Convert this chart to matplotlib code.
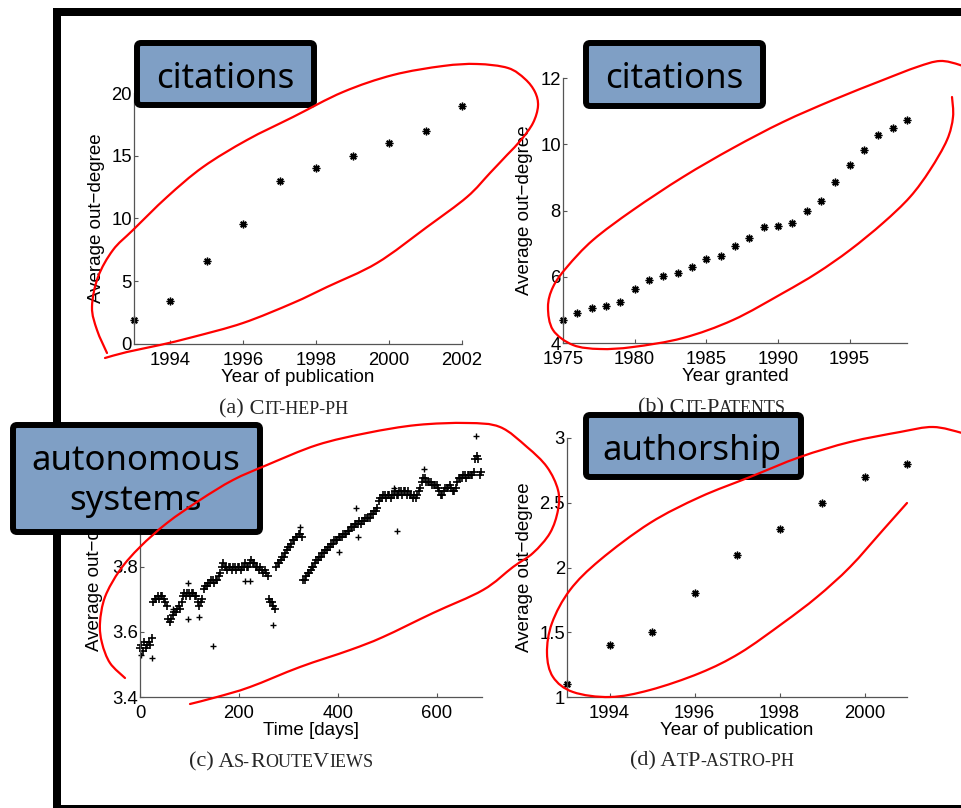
"""Average out-degree over time for four networks (citations, patents, AS graph,
co-authorship), with the slide annotations: labelled boxes and hand-drawn red loops.

Saves out.png (961x808).
"""
import numpy as np
import matplotlib
matplotlib.use("Agg")
import matplotlib.pyplot as plt
from matplotlib.path import Path
from matplotlib.patches import PathPatch, FancyBboxPatch, Rectangle
from matplotlib.offsetbox import TextArea, HPacker, AnnotationBbox

W, H = 961, 808

# ---- data ----
hep_year = [1993, 1994, 1995, 1996, 1997, 1998, 1999, 2000, 2001, 2002]
hep_deg = [1.9, 3.4, 6.6, 9.6, 13.0, 14.0, 15.0, 16.0, 17.0, 19.0]

pat_year = list(range(1975, 2000))
pat_deg = [4.70, 4.90, 5.06, 5.11, 5.25, 5.64, 5.90, 6.03, 6.12, 6.30,
           6.54, 6.63, 6.93, 7.16, 7.51, 7.52, 7.63, 7.98, 8.28, 8.85,
           9.38, 9.83, 10.27, 10.48, 10.73]

astro_year = [1993, 1994, 1995, 1996, 1997, 1998, 1999, 2000, 2001]
astro_deg = [1.1, 1.4, 1.5, 1.8, 2.1, 2.3, 2.5, 2.7, 2.8]

# AS-RouteViews, one reading every 3 days (day 0, 3, ..., 690)
as_deg = [
    3.55, 3.56, 3.54, 3.57, 3.55, 3.56, 3.57, 3.56, 3.58, 3.69,  # 0
    3.70, 3.70, 3.71, 3.70, 3.71, 3.71, 3.70, 3.69, 3.68, 3.64,  # 30
    3.63, 3.64, 3.65, 3.66, 3.66, 3.67, 3.68, 3.67, 3.69, 3.71,  # 60
    3.72, 3.71, 3.72, 3.72, 3.71, 3.72, 3.72, 3.71, 3.71, 3.69,  # 90
    3.68, 3.69, 3.70, 3.73, 3.74, 3.74, 3.75, 3.75, 3.76, 3.76,  # 120
    3.75, 3.76, 3.76, 3.77, 3.78, 3.80, 3.81, 3.80, 3.80, 3.79,  # 150
    3.80, 3.80, 3.79, 3.80, 3.80, 3.79, 3.80, 3.80, 3.79, 3.80,  # 180
    3.80, 3.81, 3.80, 3.80, 3.81, 3.82, 3.81, 3.81, 3.80, 3.80,  # 210
    3.79, 3.80, 3.79, 3.78, 3.79, 3.78, 3.77, 3.70, 3.69, 3.69,  # 240
    3.68, 3.67, 3.80, 3.81, 3.81, 3.82, 3.83, 3.83, 3.84, 3.85,  # 270
    3.86, 3.86, 3.87, 3.88, 3.88, 3.89, 3.89, 3.90, 3.90, 3.89,  # 300
    3.76, 3.76, 3.77, 3.78, 3.78, 3.79, 3.80, 3.80, 3.81, 3.82,  # 330
    3.82, 3.83, 3.83, 3.84, 3.84, 3.85, 3.85, 3.86, 3.86, 3.87,  # 360
    3.87, 3.88, 3.88, 3.88, 3.89, 3.89, 3.89, 3.90, 3.90, 3.90,  # 390
    3.91, 3.91, 3.92, 3.92, 3.92, 3.93, 3.93, 3.93, 3.94, 3.93,  # 420
    3.94, 3.94, 3.95, 3.95, 3.95, 3.95, 3.96, 3.96, 3.97, 3.97,  # 450
    3.98, 4.00, 4.01, 4.01, 4.02, 4.02, 4.01, 4.02, 4.02, 4.01,  # 480
    4.02, 4.02, 4.03, 4.02, 4.02, 4.03, 4.03, 4.02, 4.03, 4.03,  # 510
    4.02, 4.03, 4.02, 4.02, 4.01, 4.02, 4.01, 4.02, 4.03, 4.04,  # 540
    4.06, 4.07, 4.07, 4.06, 4.06, 4.06, 4.06, 4.05, 4.05, 4.05,  # 570
    4.05, 4.04, 4.03, 4.02, 4.02, 4.03, 4.04, 4.04, 4.04, 4.05,  # 600
    4.04, 4.03, 4.03, 4.04, 4.06, 4.07, 4.07, 4.07, 4.08, 4.08,  # 630
    4.07, 4.08, 4.08, 4.08, 4.08, 4.09, 4.13, 4.14, 4.13, 4.08,  # 660
    4.09,                                                        # 690
]
as_day = np.arange(len(as_deg)) * 3
# stray readings off the main band
as_out_day = [3, 24, 66, 97, 98, 120, 148, 213, 223, 270, 324, 402, 438, 441, 513, 519, 574, 679]
as_out_deg = [3.53, 3.52, 3.67, 3.64, 3.75, 3.645, 3.555, 3.755, 3.755, 3.62, 3.92, 3.845,
              3.98, 3.89, 4.04, 3.91, 4.10, 4.20]

plt.rcParams["font.family"] = ["Liberation Sans", "DejaVu Sans"]
AX_COL = "#555555"
STAR = (8, 2, 0)


def add_panel(l, t, r, b, xlabel, ylab_right):
    """Axes placed by its pixel box (left, top, right, bottom) in the 961x808 image."""
    ax = fig.add_axes([l / W, 1 - b / H, (r - l) / W, (b - t) / H])
    for s in ("top", "right"):
        ax.spines[s].set_visible(False)
    for s in ("left", "bottom"):
        ax.spines[s].set_color(AX_COL)
        ax.spines[s].set_linewidth(0.9)
    ax.tick_params(direction="in", length=3, width=0.8, color=AX_COL,
                   labelsize=13.3, labelcolor="black")
    ax.tick_params(axis="x", pad=5.5)
    ax.tick_params(axis="y", pad=1.5)
    ax.set_xlabel(xlabel, fontsize=13.5)
    ax.xaxis.set_label_coords(0.5, -25 / (b - t))
    ax.set_ylabel("Average out\u2212degree", fontsize=13.5)
    ax.yaxis.set_label_coords(-(l - ylab_right) / (r - l), 0.5)
    return ax


fig = plt.figure(figsize=(W / 100, H / 100), dpi=100)
fig.patch.set_facecolor("white")

ax = add_panel(134, 93, 462, 344, "Year of publication", 105)
ax.plot(hep_year, hep_deg, ls="none", marker=STAR, ms=5.5, mew=1.0, color="black", clip_on=False)
ax.set_xlim(1993, 2002); ax.set_ylim(0, 20)
ax.set_xticks([1994, 1996, 1998, 2000, 2002]); ax.set_yticks([0, 5, 10, 15, 20])

ax = add_panel(563, 78, 907, 343, "Year granted", 533)
ax.plot(pat_year, pat_deg, ls="none", marker=STAR, ms=5.5, mew=1.0, color="black", clip_on=False)
ax.set_xlim(1975, 1999); ax.set_ylim(4, 12)
ax.set_xticks([1975, 1980, 1985, 1990, 1995]); ax.set_yticks([4, 6, 8, 10, 12])

ax = add_panel(140, 436, 482, 697, "Time [days]", 103)
ax.plot(as_day, as_deg, ls="none", marker="+", ms=5.2, mew=1.2, color="black", clip_on=False)
ax.plot(as_out_day, as_out_deg, ls="none", marker="+", ms=4.5, mew=1.0, color="black", clip_on=False)
ax.set_xlim(0, 692); ax.set_ylim(3.4, 4.2)
ax.set_xticks([0, 200, 400, 600]); ax.set_yticks([3.4, 3.6, 3.8, 4.0, 4.2])
ax.set_yticklabels(["3.4", "3.6", "3.8", "4", "4.2"])

ax = add_panel(567, 438, 907, 697, "Year of publication", 533)
ax.plot(astro_year, astro_deg, ls="none", marker=STAR, ms=5.5, mew=1.0, color="black", clip_on=False)
ax.set_xlim(1993, 2001); ax.set_ylim(1, 3)
ax.set_xticks([1994, 1996, 1998, 2000]); ax.set_yticks([1, 1.5, 2, 2.5, 3])
ax.set_yticklabels(["1", "1.5", "2", "2.5", "3"])

# ---- slide overlay in pixel coordinates ----
ov = fig.add_axes([0, 0, 1, 1], zorder=10)
ov.set_xlim(0, W); ov.set_ylim(H, 0)
ov.axis("off")


def caption(x, y, runs):
    # small caps faked with a smaller size for the lower-case runs
    areas = [TextArea(s, textprops=dict(fontsize=16 if big else 13,
                                        family="Liberation Serif", color="#262626"))
             for s, big in runs]
    pack = HPacker(children=areas, align="baseline", pad=0, sep=0)
    ov.add_artist(AnnotationBbox(pack, (x, y), frameon=False, box_alignment=(0.5, 0.5),
                                 pad=0, zorder=1))


caption(284, 409, [("(a)", 1), (" C", 1), ("IT-HEP-PH", 0)])
caption(712, 408, [("(b)", 1), (" C", 1), ("IT-", 0), ("P", 1), ("ATENTS", 0)])
caption(281, 762, [("(c)", 1), (" A", 1), ("S-", 0), ("R", 1), ("OUTE", 0), ("V", 1), ("IEWS", 0)])
caption(712, 761, [("(d)", 1), (" A", 1), ("T", 0), ("P", 1), ("-ASTRO-PH", 0)])

# black slide frame
for x0, y0, w, h in [(53, 8, 908, 8), (53, 8, 8, 800), (53, 805, 908, 5)]:
    ov.add_patch(Rectangle((x0, y0), w, h, color="black", lw=0, zorder=2))

# label boxes
for x0, y0, x1, y1 in [(137, 43, 314, 105), (586, 43, 763, 106),
                       (13, 425, 260, 532), (586, 415, 801, 477)]:
    ov.add_patch(FancyBboxPatch((x0, y0), x1 - x0, y1 - y0,
                                boxstyle="round,pad=0,rounding_size=4",
                                fc="#7f9fc5", ec="black", lw=4.3, zorder=3))
box_font = dict(family=["Noto Sans", "DejaVu Sans"], fontsize=25, color="black",
                ha="center", va="baseline", zorder=4)
ov.text(225, 88, "citations", **box_font)
ov.text(674, 88, "citations", **box_font)
ov.text(136, 470, "autonomous", **box_font)
ov.text(136, 510, "systems", **box_font)
ov.text(692, 460, "authorship", **box_font)


def smooth(points):
    """Catmull-Rom curve through the given points, as a cubic Bezier path."""
    p = np.asarray(points, float)
    q = np.vstack([p[0], p, p[-1]])
    verts, codes = [p[0]], [Path.MOVETO]
    for i in range(1, len(q) - 2):
        verts += [q[i] + (q[i + 1] - q[i - 1]) / 6, q[i + 1] - (q[i + 2] - q[i]) / 6, q[i + 1]]
        codes += [Path.CURVE4] * 3
    return Path(verts, codes)


loops = [
    [(107, 353), (97, 330), (92, 307), (98, 277), (113, 250), (133, 230), (167, 197),
     (203, 167), (247, 140), (293, 117), (343, 92), (393, 75), (443, 66), (477, 64),
     (508, 68), (525, 79), (535, 92), (538, 106), (533, 123), (521, 140), (507, 155),
     (490, 173), (467, 197), (427, 227), (377, 263), (327, 287), (293, 303), (243, 323),
     (193, 337), (160, 345), (127, 352), (105, 358)],
    [(952, 97), (953, 117), (947, 140), (930, 170), (910, 197), (883, 223), (850, 250),
     (817, 273), (783, 293), (733, 320), (683, 338), (633, 347), (600, 349), (573, 345),
     (553, 330), (548, 307), (553, 287), (567, 267), (593, 240), (633, 210), (683, 177),
     (733, 148), (783, 122), (833, 100), (883, 80), (917, 67), (940, 61), (960, 65), (975, 72)],
    [(125, 678), (110, 663), (102, 643), (100, 623), (105, 597), (120, 570), (140, 547),
     (167, 523), (200, 500), (233, 480), (267, 465), (317, 445), (367, 433), (417, 425),
     (467, 423), (500, 427), (527, 447), (547, 467), (558, 490), (558, 510), (550, 533),
     (533, 553), (513, 567), (483, 590), (433, 613), (383, 637), (350, 650), (300, 667),
     (250, 687), (217, 697), (190, 704)],
    [(907, 503), (883, 530), (850, 567), (817, 597), (783, 623), (740, 653), (700, 673),
     (650, 690), (610, 697), (573, 692), (553, 677), (547, 653), (552, 623), (570, 590),
     (600, 560), (650, 523), (700, 497), (750, 477), (800, 457), (850, 442), (900, 432),
     (933, 427), (962, 433), (975, 438)],
]
for pts in loops:
    ov.add_patch(PathPatch(smooth(pts), fill=False, ec="#ff0000", lw=1.6,
                           capstyle="round", zorder=5, clip_on=False))

fig.savefig("out.png", dpi=100)
